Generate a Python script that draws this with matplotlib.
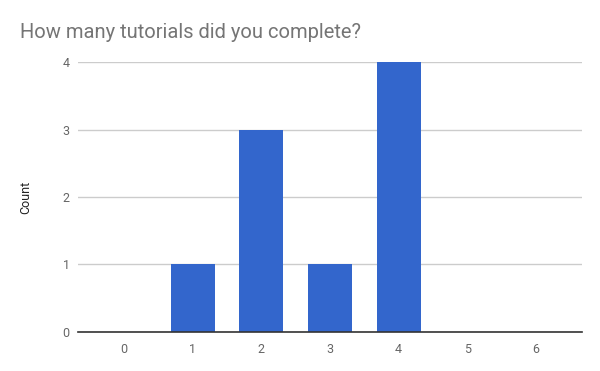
import matplotlib
matplotlib.use("Agg")
import matplotlib.pyplot as plt

categories = [1, 2, 3, 4]
counts = [1, 3, 1, 4]
xticks = [0, 1, 2, 3, 4, 5, 6]
yticks = [0, 1, 2, 3, 4]

plt.rcParams['font.family'] = ['Roboto', 'DejaVu Sans']

fig = plt.figure(figsize=(6, 3.71), dpi=100)
ax = fig.add_axes([0.13, 0.106, 0.84, 0.726])

ax.bar(categories, counts, width=0.64, color='#3366cc', zorder=3)
ax.set_xlim(-0.67, 6.67)
ax.set_ylim(0, 4)
ax.set_xticks(xticks)
ax.set_yticks(yticks)
ax.grid(axis='y', color='#cccccc', linewidth=1, zorder=0)
for s in ['top', 'right', 'left']:
    ax.spines[s].set_visible(False)
ax.spines['bottom'].set_color('#333333')
ax.spines['bottom'].set_linewidth(1.2)
ax.spines['bottom'].set_zorder(4)
ax.tick_params(axis='both', length=0, labelsize=9, labelcolor='#666666')
ax.tick_params(axis='y', pad=6)
ax.tick_params(axis='x', pad=8)
ax.set_ylabel('Count', fontsize=9, color='#222222', labelpad=22)
fig.text(20/600, 1 - 32/371, 'How many tutorials did you complete?', fontsize=14.5,
         color='#757575', ha='left', va='center')

fig.savefig('out.png', dpi=100)
